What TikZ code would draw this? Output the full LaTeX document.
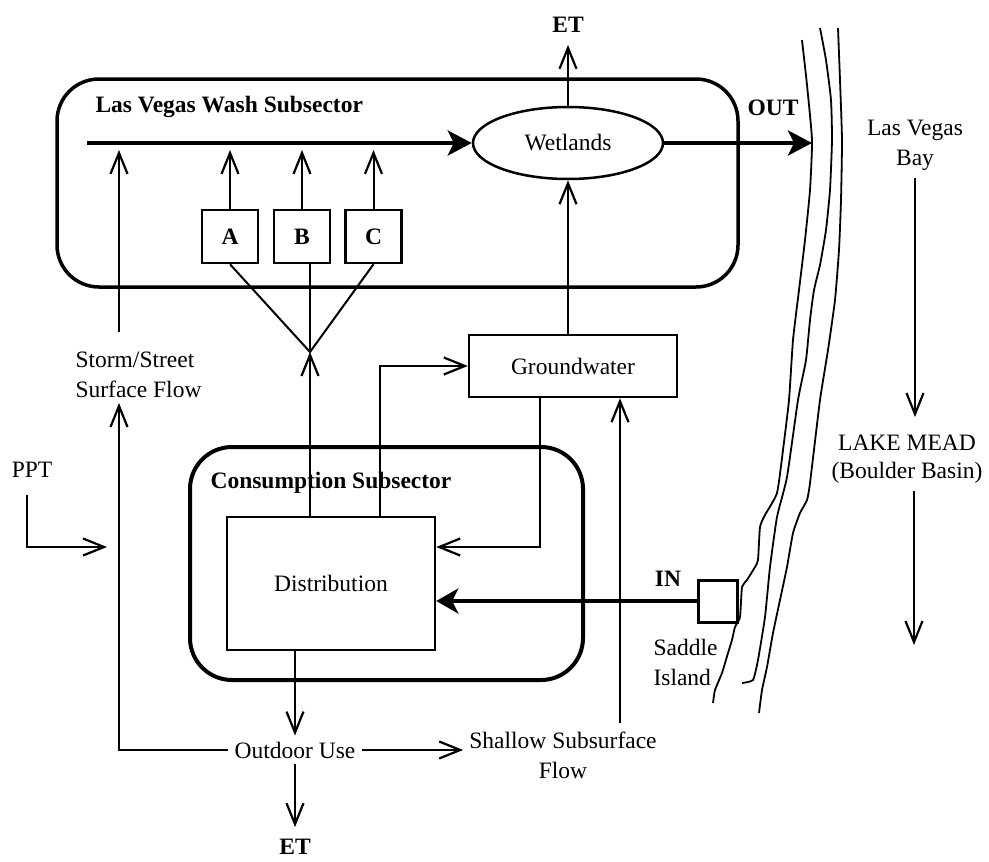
\documentclass[tikz,border=0pt]{standalone}
\usepackage{fontspec}
\setmainfont{Liberation Serif}
\usetikzlibrary{
  calc,
  positioning,
  arrows.meta,
  shapes.geometric
}

\begin{document}
\begin{tikzpicture}[x=1pt, y=-1pt, >={Straight Barb[length=21pt,width=17pt,line width=2.2pt]}]
  \tikzset{
    every node/.style={font=\fontsize{23.5}{30}\selectfont},
    boldlbl/.style={font=\fontsize{23.5}{30}\selectfont\bfseries},
    subsector/.style={draw, line width=3.5pt, rounded corners=42pt, inner sep=0pt},
    block/.style={draw, line width=2.5pt, inner sep=0pt},
    flow/.style={line width=2pt, ->},
    mainflow/.style={line width=4pt, -{Stealth[length=24pt,width=25pt,inset=6pt]}},
    shore/.style={line width=1.8pt},
    % every path/.style={thick},
  }
  \useasboundingbox (0,0) rectangle (989,862);

  % Las Vegas Wash subsector
  \node[subsector, minimum width=681pt, minimum height=208pt] (wash) at (397.5,183) {};
  \node[boldlbl, anchor=west] (washlbl) at (92,107) {Las Vegas Wash Subsector};
  \node[draw, ellipse, line width=2.5pt, inner sep=0pt,
        minimum width=190pt, minimum height=72pt] (wet) at (568,143) {Wetlands};
  \node[block, boldlbl, minimum width=56pt, minimum height=53pt] (A) at (230,236.5) {A};
  \node[block, boldlbl, minimum width=56pt, minimum height=53pt] (B) at (302,236.5) {B};
  \node[block, boldlbl, minimum width=56pt, minimum height=53pt] (C) at (373.5,236.5) {C};

  % consumption subsector
  \node[subsector, line width=4pt, minimum width=393pt, minimum height=233pt] (cons) at (386.5,563.5) {};
  \node[boldlbl, anchor=west] (conslbl) at (207,483) {Consumption Subsector};
  \node[block, minimum width=208pt, minimum height=133pt] (dist) at (331,583.5) {Distribution};
  \node[block, minimum width=208pt, minimum height=62pt] (gw) at (573,366) {Groundwater};
  \node[block, line width=3pt, minimum width=39pt, minimum height=42pt] (si) at (717.5,601) {};

  % labels
  \node[boldlbl, inner sep=12pt] (et1) at (568,25) {ET};
  \node[boldlbl, inner sep=12pt] (et2) at (295,847) {ET};
  \node[boldlbl] (out) at (773,108) {OUT};
  \node[boldlbl] (in) at (668,579) {IN};
  \node (ppt) at (32,470) {PPT};
  \node[align=left, anchor=west] (storm) at (72,375) {Storm/Street\\Surface Flow};
  \node[inner sep=6pt] (outdoor) at (295,750) {Outdoor Use};
  \node[align=center, inner sep=6pt] (shallow) at (563,755) {Shallow Subsurface\\Flow};
  \node[align=left, anchor=west] (silbl) at (650,662) {Saddle\\Island};
  \node[align=center, inner sep=8pt] (bay) at (915,145) {Las Vegas\\Bay};
  \node[align=center, inner sep=8pt,
        font=\fontsize{23.5}{28}\selectfont] (lake) at (907,459) {LAKE MEAD\\(Boulder Basin)};

  \coordinate (washsrc) at (87,143);
  \coordinate (outtip) at (812,143);
  \coordinate (wsink) at (0,150);
  \coordinate (conv) at (310,352);
  \coordinate (stormtop) at (119,332);
  \coordinate (surftip) at (119,403);
  \coordinate (pptsrc) at (27,495);
  \coordinate (ppttip) at (107,547);
  \coordinate (gwin) at (380,0);
  \coordinate (gwret) at (540,547);
  \coordinate (subsrc) at (620,723);
  \coordinate (baytip) at (915,417);
  \coordinate (laketip) at (914,645);

  % wash flows
  \draw[mainflow] (washsrc) -- (wet.west);
  \draw[mainflow] (wet.east) -- (outtip);
  \draw[flow] (wet.north) -- (wet.north |- et1.south);
  \draw[flow] (stormtop) -- (stormtop |- wsink);
  \foreach \n in {A,B,C}
    \draw[flow] (\n.north) -- (\n.north |- wsink);
  \draw[line width=2pt] (A.south) -- (conv) -- (C.south);
  \draw[line width=2pt] (conv) -- (conv |- B.south);
  \draw[flow] (gw.north -| wet.south) -- (wet.south);

  % consumption flows
  \draw[flow] (dist.north -| conv) -- (conv);
  \draw[flow] (dist.north -| gwin) |- (gw.west);
  \draw[flow] (gw.south -| gwret) |- (dist.east |- gwret);
  \draw[line width=4pt, -{Stealth[length=22pt,width=25pt,inset=6pt]}] (si.west) -- (si.west -| dist.east);
  \draw[flow] (outdoor.north |- dist.south) -- (outdoor.north);
  \draw[flow] (outdoor.south) -- (outdoor.south |- et2.north);
  \draw[flow] (outdoor.east) -- (outdoor.east -| shallow.west);
  \draw[flow] (outdoor.west) -| (surftip);
  \draw[flow] (subsrc) -- (subsrc |- gw.south);
  \draw[flow] (pptsrc) |- (ppttip);

  % lake
  \draw[flow] (bay.south -| baytip) -- (baytip);
  \draw[flow] (lake.south -| laketip) -- (laketip);

  % shoreline
  \draw[shore] plot[smooth, tension=0.3] coordinates {
    (802,40) (807,85) (812,140) (810,190) (805,240) (799,290) (793,340)
    (789,400) (783,450) (777,493) (765,515) (760,527) (758,560) (755,567)
    (747,580) (742,587) (740,617) (735,627) (732,640) (728,653) (722,673)
    (715,690) (713,703)};
  \draw[shore] plot[smooth, tension=0.3] coordinates {
    (820,28) (826,60) (831,100) (832,140) (830,190) (826,230) (820,265)
    (814,290) (810,320) (806,360) (798,400) (787,477) (777,517) (770,567)
    (765,617) (758,660) (753,680) (742,683)};
  \draw[shore] plot[smooth, tension=0.3] coordinates {
    (838,28) (840,80) (842,140) (841,200) (839,250) (835,300) (828,350)
    (820,400) (810,483) (807,500) (800,513) (793,533) (787,567) (780,600)
    (773,633) (767,667) (762,690) (759,713)};
\end{tikzpicture}
\end{document}
